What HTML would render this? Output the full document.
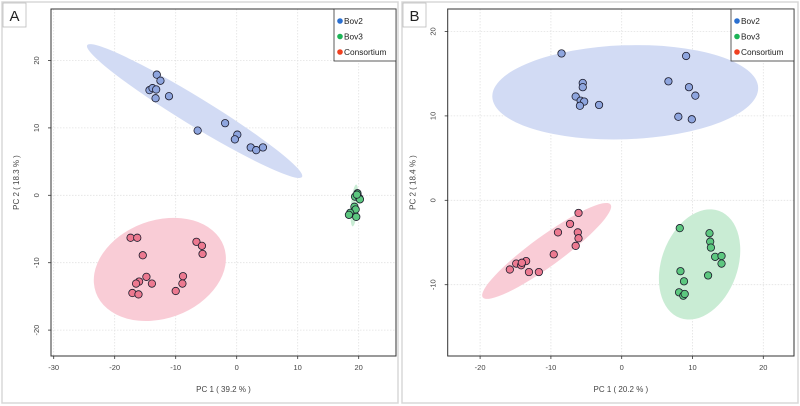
<!DOCTYPE html>
<html><head><meta charset="utf-8"><style>
html,body{margin:0;padding:0;background:#fff;width:800px;height:406px;overflow:hidden}
svg text{font-family:"Liberation Sans",sans-serif}
</style></head><body>
<svg id="fig" width="800" height="406" viewBox="0 0 800 406" xmlns="http://www.w3.org/2000/svg"></svg>
<script>
// ---------- DATA ----------
const groupNames = ["Bov2","Bov3","Consortium"];
const groupColors = ["#2a6fd0","#1db457","#f04020"];
// Panel A
const aXTicks = [-30,-20,-10,0,10,20];
const aYTicks = [-20,-10,0,10,20];
const aBov2X = [-13.1,-12.5,-14.3,-13.8,-13.2,-13.3,-11.1,-6.4,-1.9,0.1,-0.3,2.3,3.2,4.3];
const aBov2Y = [17.9,17.0,15.6,15.9,15.7,14.4,14.7,9.6,10.7,9.0,8.3,7.1,6.7,7.1];
const aBov3X = [19.4,19.8,20.1,20.2,19.3,19.5,18.6,18.4,19.6,19.7];
const aBov3Y = [-0.2,0.3,-0.4,-0.6,-1.7,-2.1,-2.6,-2.9,-3.2,0.1];
const aConsX = [-17.4,-16.3,-15.4,-6.6,-5.7,-5.6,-14.8,-13.9,-16.0,-16.5,-17.1,-16.1,-10.0,-8.8,-8.9];
const aConsY = [-6.3,-6.3,-8.9,-6.9,-7.5,-8.7,-12.1,-13.1,-12.8,-13.1,-14.5,-14.7,-14.2,-12.0,-13.1];
// Panel B
const bXTicks = [-20,-10,0,10,20];
const bYTicks = [-10,0,10,20];
const bBov2X = [-8.5,-5.5,-5.5,-6.5,-5.8,-5.3,-5.9,-3.2,9.1,6.6,9.5,10.4,8.0,9.9];
const bBov2Y = [17.4,13.9,13.4,12.3,11.8,11.7,11.2,11.3,17.1,14.1,13.4,12.4,9.9,9.6];
const bBov3X = [8.2,12.4,12.5,12.6,13.2,14.1,14.1,12.2,8.3,8.8,8.1,8.7,8.9];
const bBov3Y = [-3.3,-3.9,-4.9,-5.6,-6.7,-6.6,-7.5,-8.9,-8.4,-9.6,-10.9,-11.3,-11.1];
const bConsX = [-6.1,-7.3,-6.2,-6.1,-9.0,-6.5,-9.6,-15.8,-14.9,-14.2,-13.5,-14.1,-13.1,-11.7];
const bConsY = [-1.5,-2.8,-3.8,-4.5,-3.8,-5.4,-6.4,-8.2,-7.5,-7.7,-7.2,-7.4,-8.5,-8.5];
// confidence ellipse centres (data units)
const aEllCX = [-6.9,19.3,-12.6];
const aEllCY = [12.5,-1.5,-11.0];
const bEllCX = [0.5,11.0,-10.6];
const bEllCY = [12.8,-7.6,-6.0];

const NS="http://www.w3.org/2000/svg";
const svg=document.getElementById('fig');
function mk(tag,attrs,parent){const e=document.createElementNS(NS,tag);for(const k in attrs)e.setAttribute(k,attrs[k]);(parent||svg).appendChild(e);return e;}

const ptFill=["#8ea5de","#5cc77f","#ec7990"];
const ellFill=["#d2dbf4","#c9ecd4","#f9ccd6"];

function panel(cfg){
  const g=mk('g',{});
  
  
  const sx=v=>cfg.x0+v*cfg.kx, sy=v=>cfg.y0-v*cfg.ky;
  const fr=mk('rect',{x:cfg.fx,y:2,width:cfg.fw,height:401,fill:'none',stroke:'#d8d8d8','stroke-width':1.5},g);
  
  
  const lb=mk('rect',{x:cfg.fx+1,y:3,width:23,height:24,fill:'#fff',stroke:'#bbb','stroke-width':0.8},g);
  
  
  const lt=mk('text',{x:cfg.fx+12.5,y:21,'text-anchor':'middle','font-size':15,fill:'#222'},g);lt.textContent=cfg.id;
  
  
  cfg.xt.forEach(t=>{const l=mk('line',{x1:sx(t),x2:sx(t),y1:cfg.top,y2:cfg.bot,stroke:'#e2e2e2','stroke-width':0.8,'stroke-dasharray':'1.5,1.5'},g);
    
    });
  cfg.yt.forEach(t=>{const l=mk('line',{x1:cfg.left,x2:cfg.right,y1:sy(t),y2:sy(t),stroke:'#e2e2e2','stroke-width':0.8,'stroke-dasharray':'1.5,1.5'},g);
    
    });
  cfg.ell.forEach((e,i)=>{const cx=sx(cfg.ecx[i]),cy=sy(cfg.ecy[i]);
    const el=mk('ellipse',{cx:cx,cy:cy,rx:e[0],ry:e[1],transform:`rotate(${e[2]} ${cx} ${cy})`,fill:ellFill[i]},g);
    
    });
  cfg.pts.forEach((p,i)=>{p[0].forEach((xv,j)=>{
    const c=mk('circle',{cx:sx(xv),cy:sy(p[1][j]),r:3.7,fill:ptFill[i],stroke:'#1a1a2a','stroke-width':0.8},g);
    
    });});
  const bx=mk('rect',{x:cfg.left,y:cfg.top,width:cfg.right-cfg.left,height:cfg.bot-cfg.top,fill:'none',stroke:'#333','stroke-width':1},g);
  
  
  cfg.xt.forEach(t=>{mk('line',{x1:sx(t),x2:sx(t),y1:cfg.bot,y2:cfg.bot+3,stroke:'#333','stroke-width':0.8},g);
    const tx=mk('text',{x:sx(t),y:cfg.bot+14,'text-anchor':'middle','font-size':7.5,fill:'#444'},g);tx.textContent=t;
    
    });
  cfg.yt.forEach(t=>{mk('line',{x1:cfg.left-3,x2:cfg.left,y1:sy(t),y2:sy(t),stroke:'#333','stroke-width':0.8},g);
    const X=cfg.left-12,Y=sy(t);
    const tx=mk('text',{x:X,y:Y,'text-anchor':'middle','font-size':7.5,fill:'#444',transform:`rotate(-90 ${X} ${Y})`},g);tx.textContent=t;
    
    });
  const xtl=mk('text',{x:(cfg.left+cfg.right)/2,y:392,'text-anchor':'middle','font-size':8,fill:'#444'},g);xtl.textContent=cfg.xlab;
  
  
  const YX=cfg.left-32,YY=(cfg.top+cfg.bot)/2;
  const ytl=mk('text',{x:YX,y:YY,'text-anchor':'middle','font-size':8,fill:'#444',transform:`rotate(-90 ${YX} ${YY})`},g);ytl.textContent=cfg.ylab;
  
  
  const lg=mk('g',{},g);
  
  
  mk('rect',{x:cfg.lx,y:cfg.top,width:cfg.right-cfg.lx,height:52,fill:'#fff',stroke:'#333','stroke-width':0.8},lg);
  groupNames.forEach((n,i)=>{const y=cfg.top+12+i*15.5;
    const le=mk('g',{},lg);
    
    
    mk('circle',{cx:cfg.lx+6,cy:y,r:2.8,fill:groupColors[i]},le);
    const t=mk('text',{x:cfg.lx+10,y:y+3,'font-size':8.3,fill:'#222'},le);t.textContent=n;});
}

panel({id:'A',fx:2,fw:396,left:51,right:396,top:9,bot:356,x0:236.7,kx:6.1,y0:195.3,ky:6.74,
  xt:aXTicks,yt:aYTicks,xlab:'PC 1 ( 39.2 % )',ylab:'PC 2 ( 18.3 % )',lx:334,
  ecx:aEllCX,ecy:aEllCY,ell:[[126,14,31.5],[21,3.5,-85],[68,49,-20]],
  pts:[[aBov2X,aBov2Y],[aBov3X,aBov3Y],[aConsX,aConsY]]});
panel({id:'B',fx:402,fw:396,left:447.7,right:794,top:9,bot:356,x0:621.7,kx:7.08,y0:200.3,ky:8.44,
  xt:bXTicks,yt:bYTicks,xlab:'PC 1 ( 20.2 % )',ylab:'PC 2 ( 18.4 % )',lx:731,
  ecx:bEllCX,ecy:bEllCY,ell:[[133,47,-2],[57,38,-70],[79,15,-36]],
  pts:[[bBov2X,bBov2Y],[bBov3X,bBov3Y],[bConsX,bConsY]]});
</script>
</body></html>
